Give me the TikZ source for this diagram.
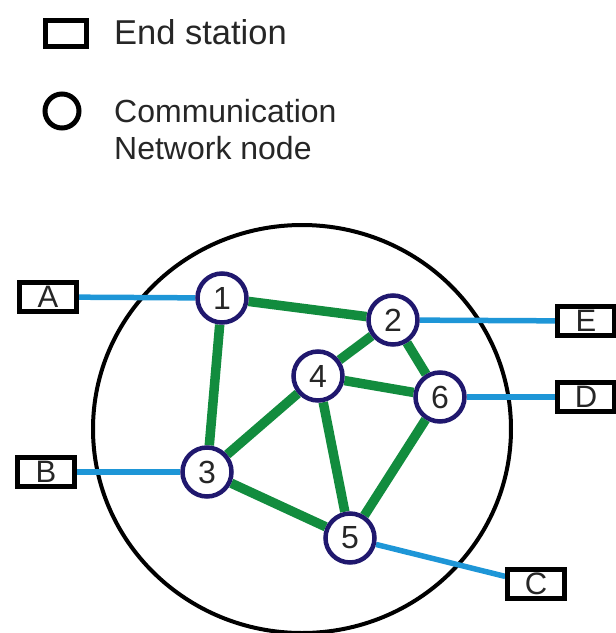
\documentclass[tikz,border=0pt]{standalone}
\usepackage{fontspec}
\setmainfont{Liberation Sans}
\usetikzlibrary{backgrounds,shapes.geometric}
\definecolor{linkgreen}{RGB}{18,140,62}
\definecolor{accessblue}{RGB}{30,150,215}
\definecolor{nodenavy}{RGB}{32,24,110}
\begin{document}
\begin{tikzpicture}[x=1pt,y=-1pt,
  station/.style={draw=black, line width=4.5pt, fill=white, minimum width=57pt, minimum height=29pt, inner sep=0pt, font=\fontsize{31}{32}\selectfont, text=black!85},
  netnode/.style={circle, draw=nodenavy, line width=4.5pt, fill=white, minimum size=49pt, inner sep=0pt, font=\fontsize{32}{33}\selectfont, text=black!85},
  legendtext/.style={anchor=base west, inner sep=0pt, font=\fontsize{32}{37}\selectfont, text=black!85},
  link/.style={draw=linkgreen, line width=9.5pt},
  access/.style={draw=accessblue, line width=5.5pt},
  boundary/.style={draw=black, line width=4pt}]
\useasboundingbox (0,0) rectangle (616,633);

% legend
\node[draw=black, line width=5pt, minimum width=41pt, minimum height=26pt, inner sep=0pt] (legbox) at (66,33) {};
\node[legendtext, font=\fontsize{34.5}{37}\selectfont] (legbox text) at (114,44) {End station};
\node[circle, draw=black, line width=5pt, minimum size=34pt, inner sep=0pt] (legcirc) at (62,111) {};
\node[legendtext] (legcirc text1) at (114,122) {Communication};
\node[legendtext] (legcirc text2) at (114,159) {Network node};

% network nodes
\node[netnode] (n1) at (222,298) {1};
\node[netnode] (n2) at (393,320) {2};
\node[netnode] (n3) at (207,472) {3};
\node[netnode] (n4) at (318,376) {4};
\node[netnode] (n5) at (350,538) {5};
\node[netnode] (n6) at (440,397) {6};

% end stations
\node[station] (A) at (48,297) {A};
\node[station] (B) at (46,472) {B};
\node[station] (C) at (536,584) {C};
\node[station] (D) at (586,397) {D};
\node[station] (E) at (586,321) {E};

\begin{scope}[on background layer]
  \node[boundary, ellipse, minimum width=418pt, minimum height=408pt, inner sep=0pt] (net) at (302,429) {};
  \draw[link] (n1) -- (n2);
  \draw[link] (n1) -- (n3);
  \draw[link] (n3) -- (n4);
  \draw[link] (n3) -- (n5);
  \draw[link] (n2) -- (n4);
  \draw[link] (n2) -- (n6);
  \draw[link] (n4) -- (n6);
  \draw[link] (n4) -- (n5);
  \draw[link] (n5) -- (n6);
  \draw[access] (A) -- (n1);
  \draw[access] (B) -- (n3);
  \draw[access] (n5) -- (C);
  \draw[access] (n6) -- (D);
  \draw[access] (n2) -- (E);
\end{scope}
\end{tikzpicture}
\end{document}
